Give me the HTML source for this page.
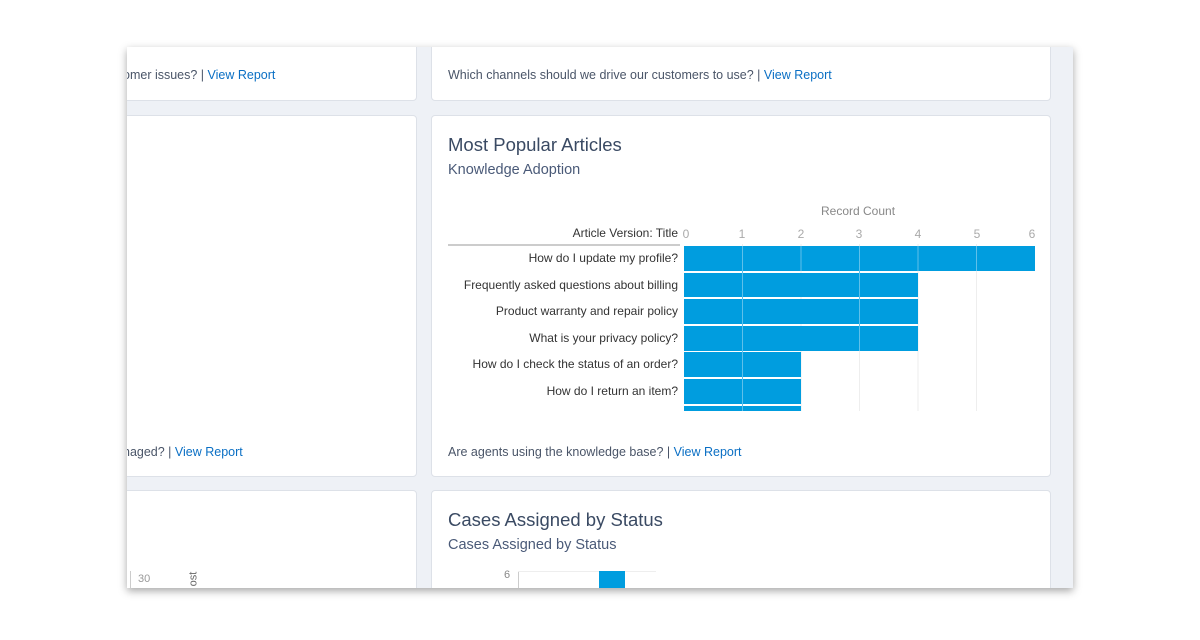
<!DOCTYPE html>
<html><head><style>
body{margin:0;width:1200px;height:640px;background:#fff;position:relative;overflow:hidden;font-family:"Liberation Sans",sans-serif}
.win{position:absolute;left:127px;top:47px;width:946px;height:541px;background:#eef1f6;overflow:hidden;box-shadow:0 3px 8px rgba(0,0,0,.35)}
.card{position:absolute;background:#fff;border:1px solid #dde1e8;border-radius:4px;box-sizing:border-box}
.t{position:absolute;font-size:12.5px;color:#4a5568;white-space:nowrap}
.t a{color:#0a6fc4}
.h{position:absolute;font-size:18.5px;color:#3a4a63;white-space:nowrap}
.s{position:absolute;font-size:14.5px;color:#4a5a78;white-space:nowrap}
.lab{position:absolute;font-size:12px;color:#333;right:0;white-space:nowrap}
</style></head><body>
<div class="win">
<div class="card" style="left:-10px;top:-10px;width:300px;height:64px"><div class="t" style="left:5px;top:30px">omer issues? | <a>View Report</a></div></div>
<div class="card" style="left:304px;top:-10px;width:620px;height:64px"><div class="t" style="left:16px;top:30px">Which channels should we drive our customers to use? | <a>View Report</a></div></div>
<div class="card" style="left:-10px;top:68px;width:300px;height:362px"><div class="t" style="left:5px;top:329px">naged? | <a>View Report</a></div></div>
<div class="card" style="left:304px;top:68px;width:620px;height:362px">
<div class="h" style="left:16px;top:18px">Most Popular Articles</div>
<div class="s" style="left:16px;top:46px">Knowledge Adoption</div>
<div class="t" style="left:16px;top:329px">Are agents using the knowledge base? | <a>View Report</a></div>
</div>
<div class="card" style="left:-10px;top:443px;width:300px;height:120px">
<div style="position:absolute;left:20px;top:82px;font-size:11px;color:#999">30</div>
<div style="position:absolute;left:12px;top:80px;width:1px;height:20px;background:#ccc"></div>
<div style="position:absolute;left:68px;top:82px;font-size:11px;color:#666;transform:rotate(-90deg)">ost</div>
</div>
<div class="card" style="left:304px;top:443px;width:620px;height:120px">
<div class="h" style="left:16px;top:18px">Cases Assigned by Status</div>
<div class="s" style="left:16px;top:46px">Cases Assigned by Status</div>
<div style="position:absolute;left:72px;top:78px;font-size:11px;color:#888">6</div>
<div style="position:absolute;left:86px;top:80px;width:1px;height:40px;background:#ccc"></div>
<div style="position:absolute;left:86px;top:80px;width:138px;height:1px;background:#eee"></div>
<div style="position:absolute;left:167px;top:80px;width:26px;height:40px;background:#009ddf"></div>
</div>
</div>
<div style="position:absolute;left:821px;top:204px;font-size:12px;color:#888">Record Count</div>
<div style="position:absolute;left:448px;top:226px;width:230px;height:14px"><div class="lab" style="top:0">Article Version: Title</div></div>
<div style="position:absolute;left:448px;top:244px;width:232px;height:2px;background:#ccc"></div>
<svg style="position:absolute;left:0;top:0" width="1200" height="640">
<g font-family="Liberation Sans" font-size="12" fill="#aaa" text-anchor="middle">
<text x="686" y="238">0</text><text x="742" y="238">1</text><text x="801" y="238">2</text><text x="859" y="238">3</text><text x="918" y="238">4</text><text x="977" y="238">5</text><text x="1032" y="238">6</text>
</g>
<g stroke="#eee"><line x1="742.5" y1="244" x2="742.5" y2="411"/><line x1="801" y1="244" x2="801" y2="411"/><line x1="859.5" y1="244" x2="859.5" y2="411"/><line x1="918" y1="244" x2="918" y2="411"/><line x1="976.5" y1="244" x2="976.5" y2="411"/></g>
<g fill="#009ddf">
<rect x="684" y="246" width="351" height="25"/>
<rect x="684" y="273" width="234" height="24"/>
<rect x="684" y="299" width="234" height="25"/>
<rect x="684" y="326" width="234" height="25"/>
<rect x="684" y="352" width="117" height="25"/>
<rect x="684" y="379" width="117" height="25"/>
<rect x="684" y="406" width="117" height="5"/>
</g>
<g stroke="#5fc0ea" stroke-width="1"><line x1="742.5" y1="246" x2="742.5" y2="411"/><line x1="801" y1="246" x2="801" y2="271"/><line x1="859.5" y1="246" x2="859.5" y2="351"/><line x1="918" y1="246" x2="918" y2="271"/><line x1="976.5" y1="246" x2="976.5" y2="271"/></g>
<g font-family="Liberation Sans" font-size="12" fill="#333" text-anchor="end">
<text x="678" y="262">How do I update my profile?</text>
<text x="678" y="289">Frequently asked questions about billing</text>
<text x="678" y="315">Product warranty and repair policy</text>
<text x="678" y="342">What is your privacy policy?</text>
<text x="678" y="368">How do I check the status of an order?</text>
<text x="678" y="395">How do I return an item?</text>
</g>
</svg>
</body></html>
